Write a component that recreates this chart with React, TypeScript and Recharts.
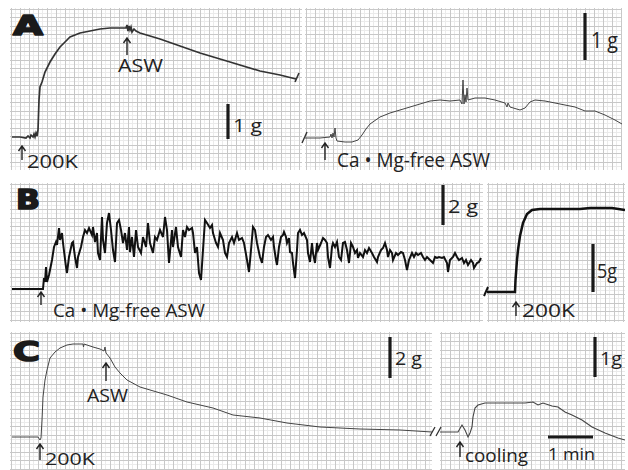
import { LineChart, Line, XAxis, YAxis, CartesianGrid } from "recharts";

// chart-paper units: t = divisions along the paper, v = pen height above panel bottom
const aLeftTrace = [
  [2, 33], [10, 33], [16, 32], [18, 34], [20, 32], [21, 35], [23, 33], [24, 36], [25, 33], [26, 37],
  [27, 34], [28, 40], [29, 70], [30, 83], [32, 88], [35, 98], [40, 108], [45, 116], [50, 123], [55, 128],
  [60, 133], [70, 137], [80, 139], [90, 141], [100, 142], [110, 142], [116, 142], [117, 145], [118, 139],
  [119, 144], [120, 140], [121, 143], [122, 138], [124, 141], [126, 139], [130, 137], [140, 134], [150, 131],
  [170, 124], [190, 117], [220, 108], [250, 99], [270, 95], [286, 91],
];

const aRightTrace = [
  [0, 32], [15, 32], [25, 33], [26, 36], [27, 32], [28, 37], [29, 33], [30, 42], [31, 32], [32, 29],
  [40, 28], [47, 28], [53, 30], [57, 35], [61, 41], [65, 46], [75, 53], [85, 57], [95, 60], [105, 63],
  [115, 66], [125, 69], [135, 70], [145, 69], [155, 70], [157, 66], [158, 90], [159, 66], [160, 75],
  [161, 68], [162, 82], [163, 70], [170, 72], [180, 72], [190, 70], [200, 67], [202, 63], [203, 67],
  [205, 63], [215, 60], [220, 62], [225, 68], [230, 70], [240, 69], [255, 66], [270, 63], [280, 59],
  [290, 59], [300, 55], [310, 50], [317, 46],
];

const bLeftTrace = [
  [2, 33], [33, 33], [34, 44], [35, 40], [36, 55], [37, 40], [39, 47], [42, 62], [44, 75], [46, 80],
  [47, 77], [49, 94], [50, 82], [52, 89], [53, 79], [56, 55], [57, 49], [59, 65], [62, 79], [63, 80],
  [65, 65], [67, 54], [68, 65], [71, 75], [73, 85], [75, 92], [77, 89], [79, 94], [82, 87], [83, 95],
  [85, 80], [87, 89], [88, 69], [90, 62], [92, 105], [93, 82], [95, 69], [97, 99], [99, 109], [101, 92],
  [103, 72], [105, 60], [107, 99], [109, 102], [111, 92], [113, 79], [115, 89], [117, 72], [119, 95],
  [120, 70], [122, 85], [124, 65], [126, 92], [128, 75], [131, 69], [133, 85], [136, 75], [138, 99],
  [140, 79], [143, 69], [145, 85], [147, 82], [150, 92], [153, 85], [155, 105], [157, 92], [159, 59],
  [162, 92], [163, 75], [166, 95], [168, 75], [171, 65], [173, 92], [175, 85], [177, 95], [179, 92],
  [182, 94], [183, 89], [185, 69], [187, 75], [189, 49], [191, 42], [193, 72], [195, 102], [197, 99],
  [200, 94], [202, 97], [203, 89], [206, 79], [208, 75], [210, 89], [213, 82], [215, 69], [217, 65],
  [219, 79], [222, 85], [224, 79], [227, 89], [229, 82], [232, 84], [234, 79], [237, 62], [239, 50],
  [241, 72], [243, 95], [245, 92], [247, 79], [250, 65], [252, 59], [254, 75], [256, 85], [258, 87],
  [261, 82], [263, 85], [264, 75], [266, 62], [267, 57], [269, 75], [271, 85], [273, 87], [274, 90],
  [276, 85], [277, 79], [279, 84], [280, 70], [282, 69], [283, 59], [285, 44], [287, 72], [288, 89],
  [290, 92], [292, 87], [294, 89], [297, 82], [298, 69], [300, 60], [302, 79], [303, 69], [305, 59],
  [307, 79], [308, 72], [311, 79], [313, 84], [315, 82], [317, 79], [318, 65], [320, 54], [322, 75],
  [323, 79], [325, 75], [327, 80], [329, 65], [331, 62], [333, 79], [335, 80], [337, 72], [339, 59],
  [341, 79], [343, 75], [345, 69], [347, 72], [348, 64], [350, 69], [353, 65], [355, 72], [357, 69],
  [359, 74], [362, 69], [364, 65], [367, 60], [368, 65], [371, 72], [373, 74], [375, 79], [377, 72],
  [378, 65], [380, 72], [382, 69], [383, 62], [386, 69], [388, 67], [391, 70], [393, 69], [395, 62],
  [397, 52], [399, 62], [402, 69], [404, 65], [406, 69], [408, 67], [411, 69], [413, 65], [415, 62],
  [417, 65], [420, 62], [423, 59], [425, 65], [427, 64], [429, 65], [432, 64], [434, 65], [437, 59],
  [438, 50], [440, 62], [443, 65], [445, 69], [447, 65], [449, 62], [452, 64], [454, 59], [456, 62],
  [458, 57], [461, 62], [463, 59], [464, 54], [467, 59], [469, 60], [471, 64],
];

const bRightTrace = [
  [0, 30], [28, 30], [28.5, 42], [30, 62], [31, 72], [33, 86], [36, 99], [40, 108], [45, 112],
  [53, 113], [73, 113], [93, 113], [103, 114], [113, 114], [125, 114], [138, 112],
];

const cLeftTrace = [
  [2, 33], [28, 33], [30, 30], [31, 32], [32, 50], [33, 73], [35, 90], [37, 100], [40, 112], [45, 118],
  [50, 122], [57, 125], [63, 126], [70, 126], [73, 126], [73.5, 123], [74, 126], [77, 125], [83, 123],
  [90, 121], [94, 119], [95, 123], [96, 117], [100, 112], [105, 103], [110, 97], [117, 90], [130, 83],
  [157, 75], [177, 68], [203, 62], [223, 55], [250, 52], [277, 47], [310, 43], [350, 41], [390, 40],
  [422, 38],
];

const cRightTrace = [
  [0, 38], [18, 38], [22, 45], [25, 40], [28, 33], [30, 37], [32, 43], [33, 53], [35, 62], [38, 65],
  [45, 67], [65, 67], [85, 67], [93, 68], [98, 65], [103, 67], [112, 64], [118, 63], [125, 58],
  [132, 55], [142, 50], [152, 43], [165, 37], [178, 32], [185, 30],
];

const toRows = (pts: number[][]) => pts.map(([t, v]) => ({ t, v }));

const steps = (size: number, step: number) => {
  const out: number[] = [];
  for (let p = 0.5; p < size; p += step) out.push(Math.round(p) + 0.5);
  return out;
};

function Trace({ left, top, width, height, pts, stroke, sw }: any) {
  return (
    <div style={{ position: "absolute", left, top, width, height }}>
      <LineChart width={width} height={height} data={toRows(pts)} margin={{ top: 0, right: 0, bottom: 0, left: 0 }}>
        <CartesianGrid stroke="#ebebeb" strokeWidth={1} verticalPoints={steps(width, 4.5)} horizontalPoints={steps(height, 4.25)} />
        <CartesianGrid stroke="#c8c8c8" strokeWidth={1} verticalPoints={steps(width, 9)} horizontalPoints={steps(height, 8.5)} />
        <XAxis type="number" dataKey="t" domain={[0, width]} hide allowDataOverflow />
        <YAxis type="number" domain={[0, height]} hide allowDataOverflow />
        <Line type="linear" dataKey="v" stroke={stroke} strokeWidth={sw} dot={false} isAnimationActive={false} />
      </LineChart>
    </div>
  );
}

const Arrow = ({ x, y1, y2 }: { x: number; y1: number; y2: number }) => (
  <path d={`M${x} ${y2} L${x} ${y1} M${x - 3.5} ${y1 + 5} L${x} ${y1} L${x + 3.5} ${y1 + 5}`} stroke="#222" strokeWidth={1.4} fill="none" />
);

const Bar = ({ x1, y1, x2, y2 }: any) => <line x1={x1} y1={y1} x2={x2} y2={y2} stroke="#1a1a1a" strokeWidth={3.2} />;

const T = ({ x, y, len, size, children }: any) => (
  <text x={x} y={y} fontSize={size} textLength={len} lengthAdjust="spacingAndGlyphs" fill="#222">
    {children}
  </text>
);

const Big = ({ x, y, len, children }: any) => (
  <text x={x} y={y} fontSize={26} fontWeight={900} textLength={len} lengthAdjust="spacingAndGlyphs"
    fill="#1a1a1a" stroke="#1a1a1a" strokeWidth={1.6} strokeLinejoin="round" fontFamily="'DejaVu Sans', sans-serif">
    {children}
  </text>
);

export default function App() {
  return (
    <div style={{ position: "absolute", left: 0, top: 0, width: 628, height: 470, background: "#fff", overflow: "hidden" }}>
      <Trace left={10} top={8} width={292} height={162} pts={aLeftTrace} stroke="#333" sw={1.7} />
      <Trace left={305} top={8} width={317} height={162} pts={aRightTrace} stroke="#444" sw={1} />
      <Trace left={10} top={183} width={473} height={139} pts={bLeftTrace} stroke="#111" sw={2} />
      <Trace left={487} top={183} width={138} height={139} pts={bRightTrace} stroke="#111" sw={2.5} />
      <Trace left={10} top={332} width={422} height={138} pts={cLeftTrace} stroke="#444" sw={1} />
      <Trace left={440} top={332} width={185} height={138} pts={cRightTrace} stroke="#444" sw={1.1} />

      <svg width={628} height={470} style={{ position: "absolute", left: 0, top: 0 }} fontFamily="'Open Sans', sans-serif">
        {/* A */}
        <Big x={13} y={35} len={30}>A</Big>
        <line x1={295} y1={82} x2={299} y2={73} stroke="#333" strokeWidth={1.6} />
        <Arrow x={22} y1={146} y2={160} />
        <T x={27} y={168} len={51} size={18}>200K</T>
        <Arrow x={127} y1={38} y2={55} />
        <T x={118} y={72} len={45} size={19}>ASW</T>
        <Bar x1={228} y1={104} x2={228} y2={139} />
        <T x={233} y={132} len={29} size={19}>1 g</T>
        <line x1={302} y1={143} x2={307} y2={132} stroke="#333" strokeWidth={1.4} />
        <Arrow x={325} y1={143} y2={160} />
        <T x={337} y={167} len={153} size={20}>Ca • Mg-free ASW</T>
        <Bar x1={585} y1={13} x2={585} y2={60} />
        <T x={591} y={48} len={27} size={21}>1 g</T>

        {/* B */}
        <Big x={16} y={209} len={24}>B</Big>
        <Arrow x={41} y1={292} y2={305} />
        <T x={53} y={317} len={152} size={19}>Ca • Mg-free ASW</T>
        <Bar x1={443} y1={185} x2={443} y2={225} />
        <T x={448} y={213} len={30} size={18}>2 g</T>
        <line x1={484} y1={296} x2={488} y2={287} stroke="#111" strokeWidth={2} />
        <Arrow x={516} y1={302} y2={316} />
        <T x={522} y={317} len={53} size={19}>200K</T>
        <Bar x1={593} y1={244} x2={593} y2={292} />
        <T x={597} y={278} len={20} size={20}>5g</T>

        {/* C */}
        <Big x={13} y={361} len={27}>C</Big>
        <Arrow x={40} y1={444} y2={460} />
        <T x={45} y={465} len={50} size={17}>200K</T>
        <Arrow x={106} y1={363} y2={381} />
        <T x={87} y={402} len={41} size={19}>ASW</T>
        <Bar x1={390} y1={337} x2={390} y2={378} />
        <T x={395} y={365} len={27} size={18}>2 g</T>
        <path d="M430 436 L435 427 M436 436 L441 427" stroke="#333" strokeWidth={1.3} fill="none" />
        <Arrow x={460} y1={442} y2={457} />
        <T x={465} y={462} len={63} size={19}>cooling</T>
        <Bar x1={548} y1={437} x2={593} y2={437} />
        <T x={548} y={460} len={47} size={17}>1 min</T>
        <Bar x1={595} y1={337} x2={595} y2={377} />
        <T x={600} y={365} len={22} size={19}>1g</T>
      </svg>
    </div>
  );
}
